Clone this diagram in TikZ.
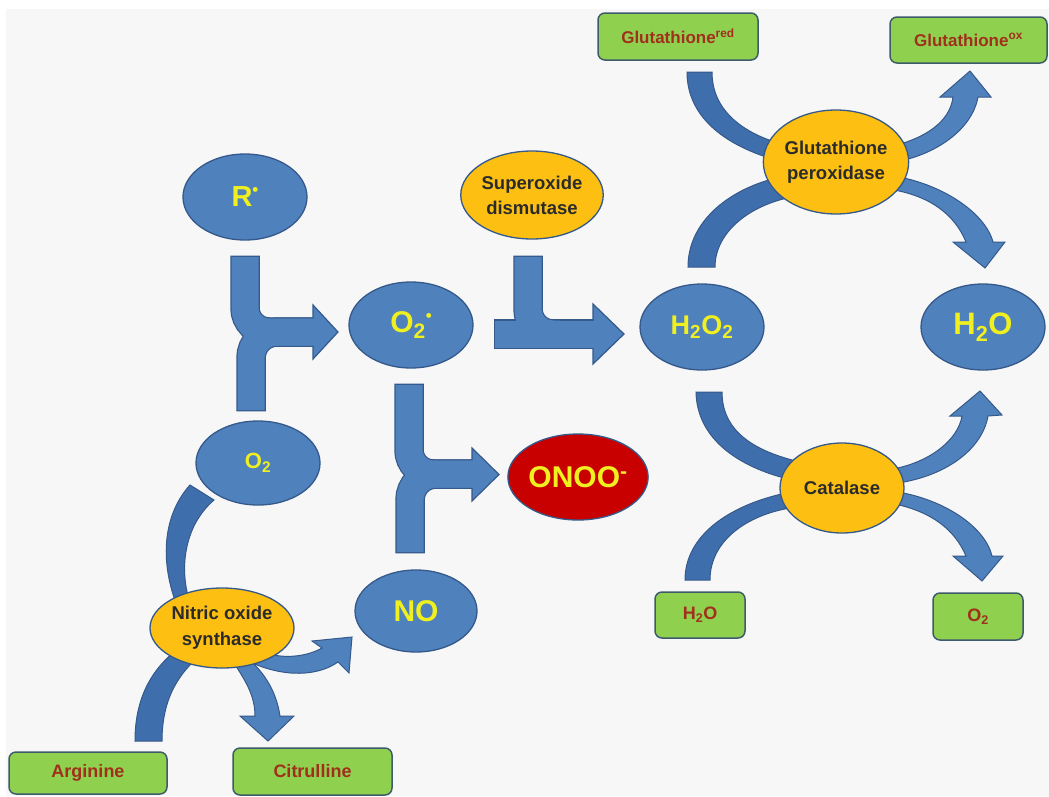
\documentclass[tikz,border=0pt]{standalone}
\usepackage{fontspec}
\setmainfont{Liberation Sans}
\usetikzlibrary{shapes.geometric}
\pgfdeclarelayer{paper}
\pgfdeclarelayer{back}
\pgfsetlayers{paper,back,main}
\definecolor{bgc}{HTML}{F7F7F7}
\definecolor{bfill}{HTML}{4F81BD}
\definecolor{bline}{HTML}{35598A}
\definecolor{cfill}{HTML}{3F6EAC}
\definecolor{ofill}{HTML}{FCBF12}
\definecolor{gfill}{HTML}{8FD14F}
\definecolor{gline}{HTML}{3E5B6B}
\definecolor{rfill}{HTML}{C80000}
\definecolor{ytext}{HTML}{F0F020}
\definecolor{rtext}{HTML}{A0301C}
\definecolor{dtext}{HTML}{2B2B2B}
\newcommand{\raddot}{\raisebox{0.38em}{\fontsize{17}{17}\selectfont •}}
\begin{document}
\begin{tikzpicture}[x=1pt,y=-1pt,
  mol/.style={ellipse,draw=bline,line width=1.3pt,fill=bfill,text=ytext,inner sep=0pt},
  enz/.style={ellipse,draw=bline,line width=1.3pt,fill=ofill,text=dtext,inner sep=0pt,align=center,font=\fontsize{18.5}{25}\selectfont\bfseries},
  sub/.style={rectangle,rounded corners=7pt,draw=gline,line width=1.5pt,fill=gfill,text=rtext,inner sep=0pt,font=\fontsize{18}{20}\selectfont\bfseries},
  inband/.style={fill=cfill,draw=bline,line width=1pt},
  outarrow/.style={fill=bfill,draw=bline,line width=1pt,line join=miter},
  shaftB/.style={draw=bline,line width=29.5pt,shorten <=-1.3pt},
  shaftF/.style={draw=bfill,line width=27pt},
  tiphead/.style={fill=bfill,draw=bline,line width=1.2pt,line join=miter}
]
\useasboundingbox (0,0) rectangle (1049,796);
\begin{pgfonlayer}{paper}
  \fill[white] (0,0) rectangle (1049,796);
  \fill[bgc] (6,9) rectangle (1049,796);
\end{pgfonlayer}

% molecules
\node[mol,minimum width=124pt,minimum height=86pt,font=\fontsize{29}{30}\selectfont\bfseries] (R) at (245,197) {R\raddot};
\node[mol,minimum width=124pt,minimum height=86pt,font=\fontsize{30}{30}\selectfont\bfseries] (O2r) at (411,325) {O\textsubscript{2}\raddot};
\node[mol,minimum width=124pt,minimum height=84pt,font=\fontsize{22}{24}\selectfont\bfseries] (O2) at (258,463) {O\textsubscript{2}};
\node[mol,minimum width=122pt,minimum height=82pt,font=\fontsize{30}{30}\selectfont\bfseries] (NO) at (416,611) {NO};
\node[mol,fill=rfill,minimum width=124pt,minimum height=86pt,font=\fontsize{30}{30}\selectfont\bfseries] (ONOO) at (578,477) {ONOO\textsuperscript{-}};
\node[mol,minimum width=124pt,minimum height=86pt,font=\fontsize{27}{30}\selectfont\bfseries] (H2O2) at (702,327) {H\textsubscript{2}O\textsubscript{2}};
\node[mol,minimum width=124pt,minimum height=86pt,font=\fontsize{31}{32}\selectfont\bfseries] (H2O) at (983,327) {H\textsubscript{2}O};

% enzymes
\node[enz,minimum width=134pt,minimum height=88pt] (SOD) at (532,195) {Superoxide\\dismutase};
\node[enz,minimum width=132pt,minimum height=104pt] (GPX) at (836,162) {Glutathione\\peroxidase};
\node[enz,minimum width=124pt,minimum height=90pt] (CAT) at (842,488) {Catalase};
\node[enz,minimum width=144pt,minimum height=80pt,font=\fontsize{18.5}{26}\selectfont\bfseries] (NOS) at (222,628) {Nitric oxide\\synthase};

% substrate boxes
\node[sub,minimum width=160pt,minimum height=47pt,font=\fontsize{17}{20}\selectfont\bfseries] (Gred) at (678,36.5) {Glutathione\textsuperscript{red}};
\node[sub,minimum width=157pt,minimum height=46pt,font=\fontsize{17}{20}\selectfont\bfseries] (Gox) at (968.5,40) {Glutathione\textsuperscript{ox}};
\node[sub,minimum width=90pt,minimum height=46pt] (H2Ob) at (700,615) {H\textsubscript{2}O};
\node[sub,minimum width=90pt,minimum height=47pt] (O2b) at (978,616.5) {O\textsubscript{2}};
\node[sub,minimum width=158pt,minimum height=42pt] (Arg) at (88,773) {Arginine};
\node[sub,minimum width=159pt,minimum height=47pt] (Cit) at (312.5,771.5) {Citrulline};

\begin{pgfonlayer}{back}
% glutathione peroxidase
\filldraw[inband] (687,72) .. controls (687,120) and (730,147) .. (776,160) -- (778,143) .. controls (742,132) and (712,110) .. (712,72) -- cycle;
\filldraw[inband] (688,267) .. controls (688,222) and (728,190) .. (776,178) -- (792,197) .. controls (750,205) and (715,232) .. (715,267) -- cycle;
\filldraw[outarrow] (893,146) .. controls (925,138) and (950,122) .. (953,97) -- (940,97) -- (970,71) -- (991,97) -- (978,97) .. controls (972,130) and (935,155) .. (895,162) -- cycle;
\filldraw[outarrow] (893,176) .. controls (940,183) and (985,212) .. (993,242) -- (1005,242) -- (985,268) -- (953,242) -- (966,242) .. controls (955,215) and (930,195) .. (888,189) -- cycle;
% catalase
\filldraw[inband] (696,392) .. controls (697,440) and (740,467) .. (788,479) -- (796,461) .. controls (752,450) and (722,430) .. (722,392) -- cycle;
\filldraw[inband] (685,580) .. controls (685,535) and (730,505) .. (786,493) -- (790,508) .. controls (748,515) and (710,540) .. (710,580) -- cycle;
\filldraw[outarrow] (893,469) .. controls (930,462) and (958,440) .. (962,416) -- (950,416) -- (980,391) -- (1002,415) -- (988,416) .. controls (982,450) and (945,476) .. (898,483) -- cycle;
\filldraw[outarrow] (898,492) .. controls (945,500) and (985,527) .. (992,556) -- (1003,556) -- (982,581) -- (953,556) -- (966,556) .. controls (955,530) and (932,512) .. (895,504) -- cycle;
% nitric oxide synthase
\filldraw[inband] (190,485) .. controls (163,515) and (160,560) .. (176,603) -- (188,596) .. controls (180,565) and (185,525) .. (214,500) -- cycle;
\filldraw[inband] (135,741) .. controls (135,700) and (150,672) .. (174,652) -- (194,661) .. controls (172,682) and (162,708) .. (162,741) -- cycle;
\filldraw[outarrow] (262,652) .. controls (285,660) and (308,656) .. (322,648) -- (312,641) -- (352,637) -- (349,673) -- (338,662) .. controls (318,676) and (285,678) .. (250,662) -- cycle;
\filldraw[outarrow] (232,660) .. controls (245,680) and (255,695) .. (255,716) -- (240,716) -- (268,741) -- (294,716) -- (280,716) .. controls (276,690) and (264,674) .. (252,662) -- cycle;

% bent block arrows: borders
\draw[shaftB] (245,257) -- (245,308) .. controls (245,321.2) and (255.8,332) .. (269,332) -- (314,332);
\draw[shaftB] (251,410) -- (251,358) .. controls (251,343.6) and (262.6,332) .. (277,332) -- (314,332);
\draw[shaftB] (409,385) -- (409,450) .. controls (409,463.2) and (419.8,474) .. (433,474) -- (473,474);
\draw[shaftB] (410,552) -- (410,500) .. controls (410,485.6) and (421.6,474) .. (436,474) -- (473,474);
\draw[shaftB] (495,334) -- (594,334);
\draw[shaftB] (528,257) -- (528,309) .. controls (528,322.8) and (539.2,334) .. (553,334) -- (560,334);
% heads
\filldraw[tiphead] (313,305) -- (338,332) -- (313,359) -- cycle;
\filldraw[tiphead] (472,448) -- (499,474.5) -- (472,501) -- cycle;
\filldraw[tiphead] (593,304) -- (624,334) -- (593,364) -- cycle;
% fills
\draw[shaftF] (245,257) -- (245,308) .. controls (245,321.2) and (255.8,332) .. (269,332) -- (314,332);
\draw[shaftF] (251,410) -- (251,358) .. controls (251,343.6) and (262.6,332) .. (277,332) -- (314,332);
\draw[shaftF] (409,385) -- (409,450) .. controls (409,463.2) and (419.8,474) .. (433,474) -- (473,474);
\draw[shaftF] (410,552) -- (410,500) .. controls (410,485.6) and (421.6,474) .. (436,474) -- (473,474);
\draw[shaftF] (495,334) -- (594,334);
\draw[shaftF] (528,257) -- (528,309) .. controls (528,322.8) and (539.2,334) .. (553,334) -- (560,334);
\end{pgfonlayer}
\end{tikzpicture}
\end{document}
